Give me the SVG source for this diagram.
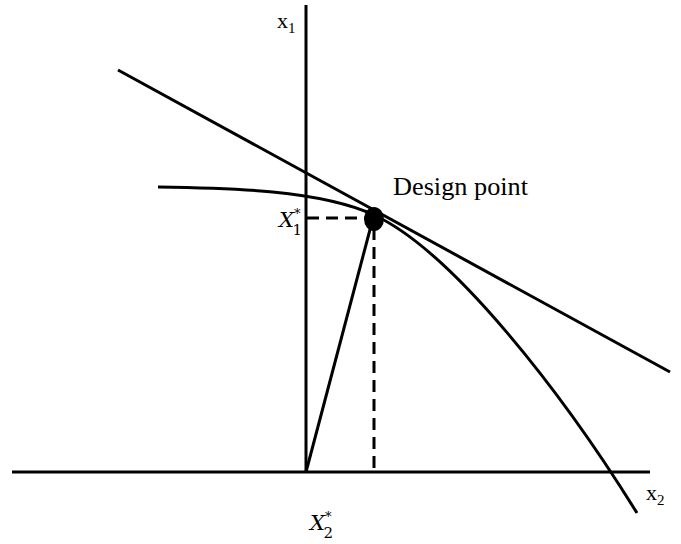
<svg xmlns="http://www.w3.org/2000/svg" width="681" height="544" viewBox="0 0 681 544">
<style>
.l{stroke:#000;stroke-width:3;fill:none}
.d{stroke:#000;stroke-width:3;fill:none;stroke-dasharray:12,7}
.t{font-family:"Liberation Serif","Times New Roman",serif;fill:#000}
.m{font-family:"DejaVu Serif","Liberation Serif",serif;font-style:italic;fill:#000}
</style>
<rect width="681" height="544" fill="#fff"/>
<g id="connectors">
<line class="l" x1="306" y1="5" x2="306" y2="473"/>
<line class="l" x1="12" y1="472" x2="650" y2="472"/>
<line class="l" x1="118" y1="70" x2="670" y2="372"/>
<path class="l" d="M158,187 C230,188 320,190 374,215 C452,251 562,392 637,513"/>
<line class="d" x1="307" y1="218" x2="368" y2="218"/>
<line class="d" x1="374" y1="228" x2="374" y2="472"/>
<line class="l" x1="306" y1="472" x2="372" y2="222"/>
</g>
<g id="design-point">
<ellipse cx="374" cy="219" rx="10" ry="12" fill="#000"/>
<text class="t" x="393" y="195" font-size="26" textLength="135" lengthAdjust="spacingAndGlyphs">Design point</text>
</g>
<g id="labels">
<text class="t" x="277" y="28" font-size="22">x<tspan font-size="15" dy="5">1</tspan></text>
<text class="t" x="646" y="500" font-size="22">x<tspan font-size="15" dy="5">2</tspan></text>
<text class="m" x="279" y="227" font-size="21">X<tspan font-size="13" dy="-9" font-style="normal">*</tspan><tspan font-size="15" dx="-8" dy="17" font-style="normal">1</tspan></text>
<text class="m" x="310" y="530" font-size="21">X<tspan font-size="13" dy="-9" font-style="normal">*</tspan><tspan font-size="15" dx="-8" dy="17" font-style="normal">2</tspan></text>
</g>
</svg>
